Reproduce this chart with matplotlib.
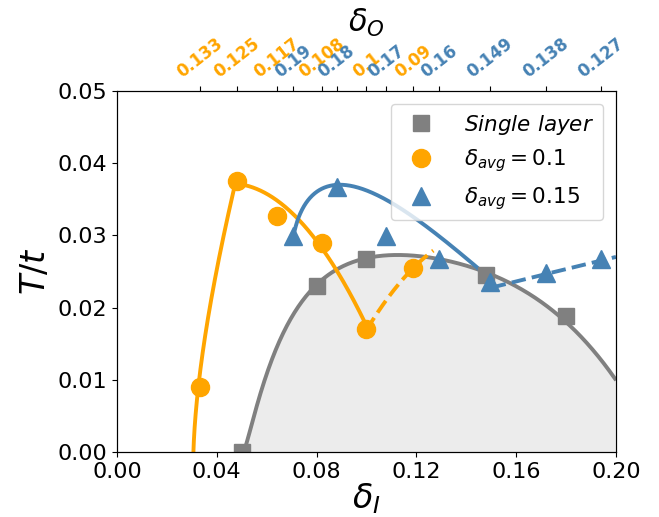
import numpy as np
import matplotlib.pyplot as plt

# single layer
single_x = [0.05, 0.08, 0.10, 0.148, 0.18]
single_T = [0.0, 0.023, 0.0267, 0.0245, 0.0188]

# delta_avg = 0.1
avg1_x = [0.0333, 0.0482, 0.064, 0.082, 0.100, 0.1188]
avg1_T = [0.0090, 0.0375, 0.0327, 0.0289, 0.0170, 0.0255]
avg1_dO = ['0.133', '0.125', '0.117', '0.108', '0.1', '0.09']

# delta_avg = 0.15
avg2_x = [0.0707, 0.088, 0.108, 0.129, 0.1495, 0.172, 0.194]
avg2_T = [0.0299, 0.0367, 0.0299, 0.0268, 0.0235, 0.0248, 0.0268]
avg2_dO = ['0.19', '0.18', '0.17', '0.16', '0.149', '0.138', '0.127']

# guide curves
single_gx = [0.0493, 0.0586, 0.0693, 0.0794, 0.0854, 0.0987, 0.1054, 0.1415, 0.1482, 0.1615, 0.1789, 0.1883, 0.1996]
single_gT = [0.0005, 0.0095, 0.0179, 0.0230, 0.0248, 0.0267, 0.0274, 0.0256, 0.0246, 0.0225, 0.0188, 0.0151, 0.0100]
avg1_rise_x = [0.0306, 0.0333, 0.0373, 0.0413, 0.0482]
avg1_rise_T = [0.0003, 0.0090, 0.0211, 0.0289, 0.0375]
avg1_fall_x = [0.0482, 0.0640, 0.0820, 0.0906, 0.1001]
avg1_fall_T = [0.0375, 0.0340, 0.0287, 0.0243, 0.0169]
avg1_dx = [0.100, 0.1188, 0.1268]
avg1_dT = [0.0169, 0.0255, 0.0279]
avg2_gx = [0.0707, 0.0747, 0.0800, 0.0880, 0.0987, 0.1121, 0.1255, 0.1388, 0.1482]
avg2_gT = [0.0299, 0.0337, 0.0362, 0.0371, 0.0362, 0.0341, 0.0309, 0.0272, 0.0244]
avg2_dx = [0.1502, 0.1722, 0.1942, 0.2000]
avg2_dT = [0.0228, 0.0246, 0.0267, 0.0269]


def guide(xk, Tk, x0, deg):
    # smooth fit in sqrt(x - x0) so the curve can rise steeply at onset
    p = np.polyfit(np.sqrt(np.array(xk) - x0), Tk, deg)
    xs = np.linspace(xk[0], xk[-1], 400)
    return xs, np.polyval(p, np.sqrt(xs - x0))


def quad(xk, Tk):
    p = np.polyfit(xk, Tk, 2)
    xs = np.linspace(xk[0], xk[-1], 200)
    return xs, np.polyval(p, xs)


orange = '#FFA500'
blue = 'steelblue'
gray = 'gray'

fig = plt.figure(figsize=(6.59, 5.17), dpi=100)
ax = fig.add_axes([0.1775, 0.1257, 0.7572, 0.6983])

gx, gT = guide(single_gx, single_gT, 0.0490, 5)
ax.fill_between(gx, 0, gT, color=gray, alpha=0.15, lw=0)
ax.plot(gx, gT, color=gray, lw=2.8)

rx, rT = guide(avg1_rise_x, avg1_rise_T, 0.0305, 2)
fx, fT = quad(avg1_fall_x, avg1_fall_T)
ax.plot(np.concatenate([rx, fx]), np.concatenate([rT, fT]), color=orange, lw=2.8)
odx, odT = quad(avg1_dx, avg1_dT)
ax.plot(odx, odT, color=orange, lw=2.8, ls='--')

bx, bT = guide(avg2_gx, avg2_gT, 0.0695, 4)
ax.plot(bx, bT, color=blue, lw=2.8)
bdx, bdT = quad(avg2_dx, avg2_dT)
ax.plot(bdx, bdT, color=blue, lw=2.8, ls='--')

ax.plot(single_x, single_T, 's', color=gray, ms=11, ls='none', label=r'$\it{Single\ layer}$')
ax.plot(avg1_x, avg1_T, 'o', color=orange, ms=13, ls='none', label=r'$\delta_{avg}=0.1$')
ax.plot(avg2_x, avg2_T, '^', color=blue, ms=13, ls='none', label=r'$\delta_{avg}=0.15$')

ax.set_xlim(0, 0.2)
ax.set_ylim(0, 0.05)
ax.set_xticks([0.0, 0.04, 0.08, 0.12, 0.16, 0.2])
ax.set_xticklabels(['0.00', '0.04', '0.08', '0.12', '0.16', '0.20'])
ax.set_yticks([0.0, 0.01, 0.02, 0.03, 0.04, 0.05])
ax.tick_params(labelsize=16)
ax.set_xlabel(r'$\delta_I$', fontsize=24, labelpad=0)
ax.set_ylabel(r'$T/t$', fontsize=24)
ax.legend(loc='upper right', fontsize=15.5, handletextpad=1.0, borderaxespad=0.6)

ax2 = ax.twiny()
ax2.set_xlim(ax.get_xlim())
ax2.set_xticks(avg1_x + avg2_x)
ax2.set_xticklabels(avg1_dO + avg2_dO, rotation=38, fontsize=12, fontweight='bold')
cols = [orange] * len(avg1_x) + [blue] * len(avg2_x)
for lab, c in zip(ax2.get_xticklabels(), cols):
    lab.set_color(c)
ax2.set_xlabel(r'$\delta_O$', fontsize=22, labelpad=2)

fig.savefig('out.png')
